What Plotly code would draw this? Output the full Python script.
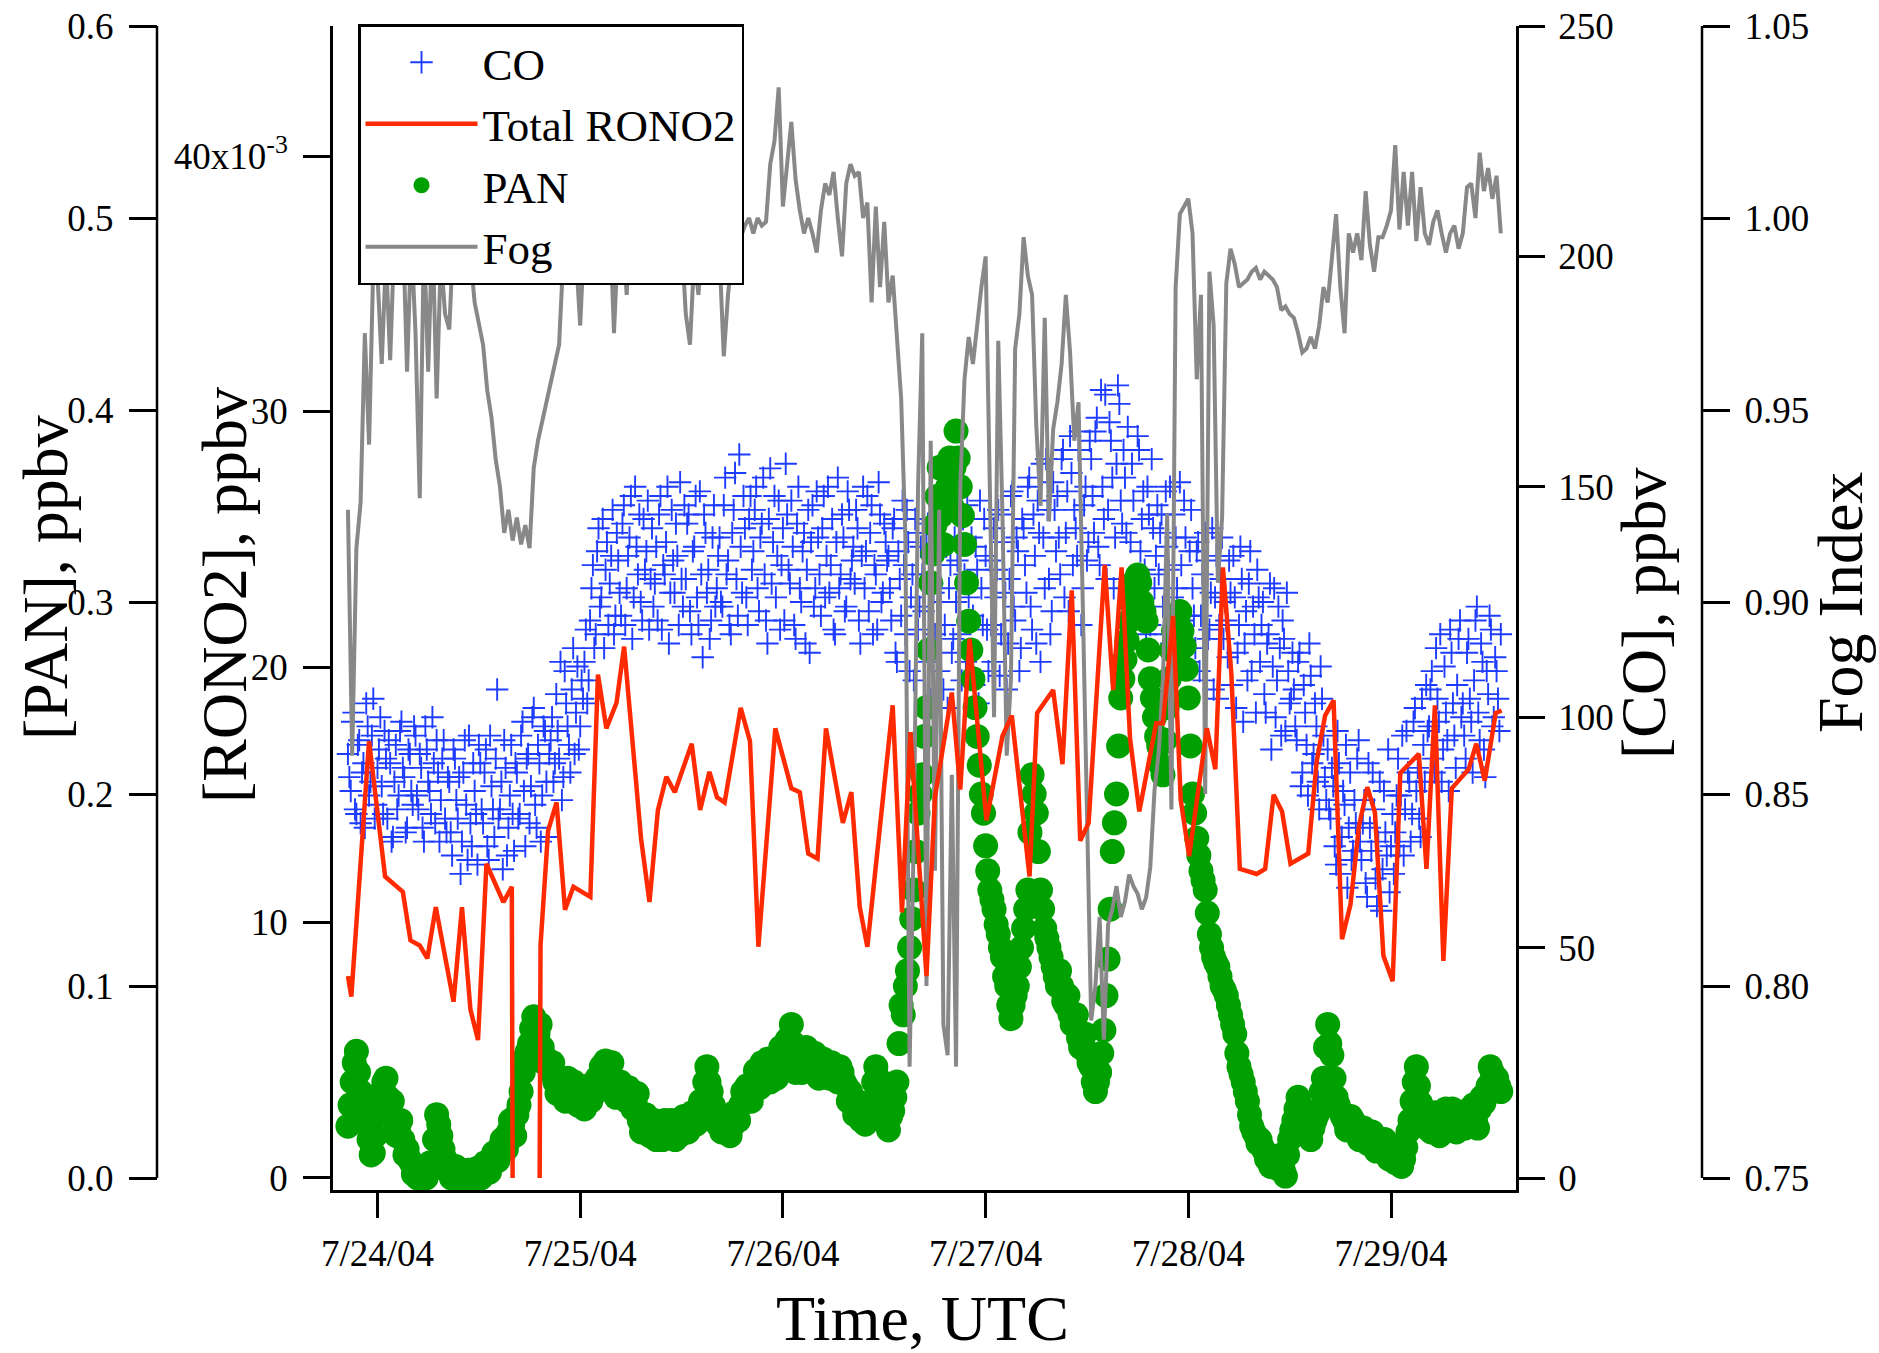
import pandas as pd
import plotly.graph_objects as go

BASE = pd.Timestamp("2004-07-24 00:00")

# ---------------- data (hours relative to 7/24/04 00:00 UTC) ----------------
rono2_hours = [-3.5, -3.1, -1.0, 0.9, 3.0, 3.9, 5.0, 5.9, 6.9, 9.0, 10.0, 11.0, 11.9, 12.9, 14.9, 15.9,
               16.0, 17.5, 19.2, 19.3, 20.2, 21.2, 22.2, 23.2, 25.2, 26.1, 27.1, 28.3, 29.2, 31.2, 32.2,
               33.2, 34.2, 35.2, 37.2, 38.2, 39.3, 40.2, 41.1, 43.0, 44.1, 45.1, 47.1, 49.0, 50.0, 51.0,
               52.1, 53.1, 55.1, 56.1, 57.1, 58.0, 61.0, 62.1, 63.1, 65.0, 66.0, 68.0, 69.0, 70.1, 72.1,
               74.0, 75.1, 77.2, 78.1, 80.0, 81.1, 82.2, 83.2, 84.2, 86.1, 87.1, 88.1, 89.1, 90.2, 92.2,
               93.0, 94.2, 95.1, 96.1, 98.2, 99.2, 100.1, 101.1, 102.1, 104.1, 105.1, 106.1, 107.1, 108.1,
               110.2, 111.2, 112.2, 113.2, 114.2, 115.2, 116.2, 117.2, 118.1, 119.1, 120.2, 121.1, 123.3,
               124.2, 125.2, 126.2, 127.2, 129.2, 130.1, 131.1, 132.4, 133.1]
rono2_pptv = [7.9, 7.1, 17.1, 11.8, 11.2, 9.3, 9.1, 8.6, 10.6, 6.9, 10.6, 6.6, 5.4, 12.3, 10.8, 11.4,
              0.0, None, 0.0, 9.1, 13.6, 14.7, 10.5, 11.4, 11.0, 19.7, 17.6, 18.6, 20.8, 13.3, 10.8,
              14.4, 15.7, 15.1, 17.0, 14.4, 15.9, 14.9, 14.7, 18.4, 17.1, 9.05, 17.6, 15.25, 15.1, 12.7,
              12.5, 17.6, 13.9, 15.1, 10.6, 9.05, 18.5, 10.4, 17.45, 7.9, 14.9, 19.0, 15.2, 21.1, 14.0,
              17.3, 18.1, 11.8, 18.2, 19.1, 16.2, 23.0, 13.2, 13.9, 24.0, 19.1, 23.9, 17.2, 14.35, 17.8,
              17.8, 22.0, 14.8, 12.6, 17.6, 16.0, 23.9, 19.7, 12.1, 11.9, 12.1, 15.0, 14.35, 12.3,
              12.7, 16.3, 18.1, 18.7, 9.35, 10.7, 13.75, 15.3, 14.3, 8.7, 7.7, 15.85, 16.6,
              12.1, 18.5, 8.5, 15.25, 16.0, 17.0, 15.55, 18.2, 18.3]

# PAN: two interleaved sample sets, every 30 min, the second offset by 15 min
pan_start_h, pan_step_h, pan_offset_h = -3.5, 0.5, 0.25
pan_ppbv = [0.027, 0.05, 0.066, 0.045, 0.035, 0.02, 0.013, 0.033,
            0.045, 0.052, 0.035, 0.03, 0.027, 0.02, 0.015, 0.008,
            0.004, 0.0, 0.0, 0.003, 0.005, 0.033, 0.022, 0.01,
            0.005, 0.002, 0.0, 0.003, 0.0, 0.002, 0.0, 0.002,
            0.004, 0.006, 0.008, 0.012, 0.016, 0.02, 0.024, 0.028,
            0.033, 0.045, 0.063, 0.07, 0.084, 0.075, 0.068, 0.062,
            0.055, 0.05, 0.045, 0.048, 0.052, 0.04, 0.045, 0.042,
            0.036, 0.048, 0.043, 0.052, 0.058, 0.061, 0.055, 0.05,
            0.044, 0.048, 0.04, 0.045, 0.039, 0.03, 0.026, 0.03,
            0.025, 0.02, 0.028, 0.03, 0.022, 0.026, 0.03, 0.025,
            0.03, 0.027, 0.032, 0.035, 0.04, 0.058, 0.045, 0.035,
            0.03, 0.025, 0.03, 0.027, 0.033, 0.038, 0.04, 0.045,
            0.05, 0.052, 0.06, 0.055, 0.05, 0.058, 0.062, 0.068,
            0.072, 0.08, 0.055, 0.062, 0.06, 0.065, 0.058, 0.06,
            0.055, 0.06, 0.052, 0.058, 0.05, 0.055, 0.048, 0.045,
            0.033, 0.038, 0.035, 0.03, 0.04, 0.058, 0.048, 0.035,
            0.025, 0.035, 0.05, 0.09, 0.1, 0.12, 0.15, 0.19,
            0.21, 0.245, 0.31, 0.34, 0.37, 0.33, 0.36, 0.35,
            0.389, 0.36, 0.33, 0.29, 0.26, 0.23, 0.2, 0.173,
            0.15, 0.14, 0.127, 0.115, 0.1, 0.083, 0.095, 0.11,
            0.13, 0.15, 0.21, 0.19, 0.15, 0.13, 0.12, 0.11,
            0.1, 0.1, 0.09, 0.085, 0.08, 0.073, 0.07, 0.065,
            0.058, 0.045, 0.055, 0.077, 0.114, 0.17, 0.2, 0.25,
            0.27, 0.29, 0.31, 0.314, 0.3, 0.29, 0.26, 0.24,
            0.225, 0.21, 0.245, 0.275, 0.29, 0.295, 0.277, 0.25,
            0.2, 0.177, 0.16, 0.15, 0.127, 0.115, 0.11, 0.1,
            0.095, 0.085, 0.075, 0.058, 0.05, 0.04, 0.027, 0.022,
            0.02, 0.014, 0.011, 0.008, 0.005, 0.012, 0.001, 0.02,
            0.03, 0.042, 0.036, 0.03, 0.02, 0.03, 0.035, 0.052,
            0.08, 0.064, 0.042, 0.035, 0.03, 0.027, 0.03, 0.025,
            0.022, 0.024, 0.02, 0.018, 0.02, 0.015, 0.012, 0.014,
            0.008, 0.011, 0.01, 0.024, 0.04, 0.058, 0.039, 0.033,
            0.03, 0.028, 0.03, 0.025, 0.036, 0.03, 0.033, 0.027,
            0.03, 0.035, 0.033, 0.03, 0.036, 0.039, 0.048, 0.055,
            0.052, 0.045]
pan_ppbv_b = [0.038, 0.06, 0.055, 0.04, 0.028, 0.012, 0.022, 0.04,
              0.05, 0.042, 0.04, 0.022, 0.03, 0.012, 0.01, 0.002,
              0.0, 0.004, 0.0, 0.008, 0.02, 0.028, 0.015, 0.004,
              0.0, 0.006, 0.002, 0.0, 0.004, 0.0, 0.005, 0.0,
              0.008, 0.003, 0.013, 0.009, 0.02, 0.015, 0.03, 0.022,
              0.038, 0.055, 0.066, 0.078, 0.068, 0.08, 0.06, 0.058,
              0.06, 0.044, 0.052, 0.04, 0.047, 0.05, 0.038, 0.045,
              0.044, 0.04, 0.05, 0.046, 0.052, 0.05, 0.06, 0.042,
              0.05, 0.042, 0.047, 0.036, 0.044, 0.024, 0.033, 0.022,
              0.03, 0.026, 0.02, 0.024, 0.03, 0.02, 0.022, 0.032,
              0.024, 0.034, 0.028, 0.04, 0.05, 0.05, 0.038, 0.028,
              0.024, 0.032, 0.022, 0.034, 0.03, 0.045, 0.048, 0.04,
              0.056, 0.047, 0.052, 0.062, 0.056, 0.052, 0.068, 0.062,
              0.065, 0.07, 0.064, 0.055, 0.068, 0.06, 0.065, 0.052,
              0.062, 0.055, 0.06, 0.052, 0.058, 0.05, 0.04, 0.038,
              0.04, 0.03, 0.028, 0.035, 0.05, 0.052, 0.04, 0.03,
              0.032, 0.042, 0.07, 0.085, 0.108, 0.135, 0.17, 0.2,
              0.23, 0.275, 0.325, 0.355, 0.345, 0.35, 0.375, 0.37,
              0.375, 0.345, 0.31, 0.275, 0.245, 0.215, 0.19, 0.16,
              0.145, 0.132, 0.12, 0.105, 0.09, 0.09, 0.1, 0.12,
              0.14, 0.18, 0.2, 0.17, 0.14, 0.125, 0.115, 0.105,
              0.108, 0.092, 0.095, 0.08, 0.085, 0.068, 0.075, 0.06,
              0.05, 0.05, 0.065, 0.095, 0.14, 0.185, 0.225, 0.26,
              0.28, 0.3, 0.305, 0.31, 0.295, 0.275, 0.25, 0.23,
              0.215, 0.228, 0.26, 0.285, 0.29, 0.285, 0.265, 0.225,
              0.19, 0.168, 0.155, 0.138, 0.12, 0.112, 0.105, 0.098,
              0.09, 0.08, 0.065, 0.054, 0.045, 0.033, 0.024, 0.018,
              0.016, 0.01, 0.006, 0.01, 0.008, 0.004, 0.012, 0.025,
              0.036, 0.038, 0.032, 0.024, 0.026, 0.033, 0.045, 0.068,
              0.07, 0.052, 0.038, 0.032, 0.025, 0.032, 0.026, 0.02,
              0.026, 0.018, 0.024, 0.014, 0.017, 0.02, 0.01, 0.012,
              0.012, 0.006, 0.016, 0.03, 0.05, 0.048, 0.036, 0.026,
              0.024, 0.034, 0.022, 0.03, 0.028, 0.036, 0.024, 0.032,
              0.026, 0.03, 0.038, 0.026, 0.042, 0.044, 0.058, 0.05,
              0.048]

fog_start_h, fog_step_h = -3.5, 0.5
fog_index = [0.924, 0.86, 0.914, 0.926, 0.97, 0.941, 0.988, 0.985,
             0.962, 0.99, 0.963, 0.995, 0.99, 0.998, 0.96, 0.995,
             0.97, 0.927, 0.995, 0.96, 0.998, 0.953, 0.99, 0.975,
             0.971, 0.996, 1.0, 1.002, 0.998, 0.99, 0.978, 0.972,
             0.967, 0.955, 0.948, 0.937, 0.93, 0.918, 0.924, 0.916,
             0.922, 0.915, 0.92, 0.914, 0.935, 0.942, 0.947, 0.952,
             0.958, 0.962, 0.967, 0.99, 0.998, 0.995, 0.99, 0.972,
             0.996, 1.0, 0.992, 0.998, 1.002, 0.995, 1.0, 0.97,
             0.995, 0.999, 0.98, 1.0, 1.003, 1.005, 1.0, 1.004,
             1.006, 1.002, 1.0, 1.004, 1.003, 0.999, 1.0, 0.995,
             0.975, 0.967, 0.99, 0.98, 0.995, 0.993, 0.985, 0.996,
             0.99, 0.964, 0.98, 0.99, 0.985, 0.995, 0.998, 1.0,
             0.996, 1.0, 0.998, 0.999, 1.014, 1.02, 1.034, 1.003,
             1.015, 1.025, 1.01, 1.002, 0.996, 1.0, 0.996, 0.991,
             1.002, 1.009, 1.006, 1.012, 1.0, 0.99, 1.009, 1.014,
             1.011, 1.012, 1.0, 1.004, 0.978, 1.003, 0.982, 0.999,
             0.978, 0.985, 0.969, 0.953, 0.917, 0.779, 0.84, 0.93,
             0.97, 0.80, 0.942, 0.83, 0.924, 0.79, 0.782, 0.855,
             0.779, 0.93, 0.958, 0.969, 0.962, 0.973, 0.982, 0.99,
             0.93, 0.87, 0.968, 0.922, 0.86, 0.88, 0.966, 0.975,
             0.995, 0.985, 0.98, 0.946, 0.925, 0.974, 0.921, 0.945,
             0.952, 0.962, 0.98, 0.965, 0.942, 0.952, 0.9, 0.84,
             0.791, 0.80, 0.818, 0.786, 0.816, 0.82, 0.826, 0.818,
             0.822, 0.829, 0.826, 0.824, 0.82, 0.823, 0.831, 0.851,
             0.861, 0.88, 0.923, 0.846, 0.982, 1.001, 1.003, 1.005,
             0.996, 0.958, 0.98, 0.85, 0.986, 0.972, 0.905, 0.922,
             0.983, 0.992, 0.988, 0.982, 0.983, 0.984, 0.986, 0.987,
             0.984, 0.986, 0.985, 0.984, 0.982, 0.976, 0.977, 0.975,
             0.974, 0.97, 0.965, 0.966, 0.969, 0.966, 0.972, 0.982,
             0.978, 0.991, 1.001, 0.982, 0.97, 0.996, 0.991, 0.996,
             0.989, 1.007, 0.993, 0.986, 0.995, 0.995, 0.998, 1.002,
             1.019, 0.997, 1.012, 0.998, 1.012, 0.994, 1.008, 0.996,
             0.993, 0.999, 1.002, 0.996, 0.991, 0.996, 0.998, 0.992,
             0.996, 1.008, 1.009, 1.0, 1.017, 1.007, 1.013, 1.005,
             1.011, 0.996]

# CO: two interleaved sample sets, every 20 min, the second offset by 10 min
co_start_h, co_step_h, co_offset_h = -3.5, 1.0 / 3.0, 1.0 / 6.0
co_ppbv = [92, 84, 101, 79, 95, 88, 76, 98, 86, 104, 81, 93,
           85, 97, 78, 90, 74, 94, 83, 99, 87, 76, 92, 81,
           96, 80, 89, 73, 93, 84, 100, 77, 88, 82, 95, 75,
           86, 70, 91, 78, 66, 88, 81, 96, 72, 84, 68, 90,
           77, 93, 69, 85, 74, 106, 80, 67, 89, 76, 94, 71,
           88, 79, 99, 72, 92, 85, 102, 76, 90, 83, 97, 74,
           95, 86, 105, 91, 82, 110, 98, 88, 115, 101, 93, 108,
           112, 103, 121, 133, 118, 141, 126, 115, 138, 129, 145, 122,
           134, 122, 146, 128, 139, 117, 150, 131, 125, 143, 136, 119,
           141, 129, 121, 148, 133, 138, 116, 145, 127, 135, 151, 124,
           130, 144, 118, 137, 126, 149, 113, 140, 132, 121, 146, 128,
           139, 124, 152, 134, 118, 145, 130, 157, 127, 141, 120, 148,
           136, 150, 123, 142, 131, 116, 154, 138, 126, 147, 133, 121,
           144, 129, 137, 117, 150, 125, 140, 132, 114, 146, 128, 139,
           122, 148, 135, 127, 143, 118, 152, 131, 139, 124, 145, 134,
           129, 141, 116, 150, 136, 123, 146, 133, 119, 144, 127, 138,
           135, 121, 143, 112, 130, 147, 118, 138, 126, 108, 140, 124,
           131, 115, 142, 104, 127, 136, 110, 145, 120, 102, 133, 117,
           125, 139, 108, 131, 146, 114, 122, 137, 103, 128, 143, 119,
           134, 112, 126, 145, 118, 138, 106, 130, 149, 121, 136, 115,
           141, 127, 152, 119, 135, 147, 112, 139, 156, 130, 123, 145,
           148, 131, 158, 140, 123, 153, 145, 135, 162, 128, 150, 138,
           156, 140, 165, 133, 150, 170, 145, 160, 128, 155, 168, 142,
           152, 163, 138, 147, 125, 158, 143, 132, 150, 120, 141, 135,
           131, 144, 118, 137, 150, 126, 139, 113, 133, 147, 122, 136,
           128, 115, 138, 122, 108, 134, 119, 141, 126, 104, 130, 117,
           121, 134, 107, 126, 114, 137, 99, 123, 129, 110, 118, 132,
           112, 125, 101, 118, 93, 128, 108, 115, 121, 97, 110, 104,
           106, 95, 114, 88, 101, 83, 109, 92, 98, 80, 104, 87,
           93, 78, 85, 68, 90, 74, 81, 63, 88, 71, 77, 95,
           69, 82, 61, 76, 88, 65, 73, 58, 84, 70, 62, 79,
           75, 91, 83, 70, 97, 86, 79, 102, 89, 74, 94, 107,
           98, 110, 88, 104, 118, 93, 101, 84, 114, 96, 107, 121,
           103, 91, 117, 99, 108, 124, 95, 112, 87, 105, 119, 100,
           110, 97]
co_ppbv_b = [87, 99, 80, 94, 77, 90, 103, 83, 96, 78, 89, 100,
             79, 91, 95, 73, 86, 80, 97, 89, 75, 93, 84, 98,
             83, 92, 76, 98, 86, 79, 90, 95, 73, 91, 78, 87,
             75, 93, 82, 87, 73, 95, 69, 77, 90, 79, 94, 80,
             88, 72, 96, 80, 91, 78, 86, 95, 70, 83, 79, 90,
             78, 96, 84, 91, 77, 100, 81, 94, 73, 98, 86, 92,
             100, 90, 97, 112, 87, 103, 94, 106, 92, 111, 98, 104,
             119, 108, 128, 115, 136, 124, 143, 132, 120, 135, 118, 140,
             127, 142, 120, 135, 148, 126, 137, 144, 121, 132, 147, 130,
             124, 137, 144, 119, 131, 150, 127, 134, 142, 120, 130, 146,
             142, 123, 136, 148, 120, 131, 144, 127, 117, 139, 124, 135,
             125, 146, 131, 120, 140, 153, 122, 137, 148, 126, 143, 132,
             145, 128, 139, 152, 121, 143, 129, 148, 135, 119, 141, 155,
             132, 147, 120, 142, 128, 136, 116, 145, 138, 124, 149, 131,
             141, 126, 150, 133, 119, 138, 128, 144, 123, 149, 130, 137,
             145, 121, 135, 128, 148, 140, 118, 131, 151, 125, 142, 134,
             128, 141, 114, 136, 122, 133, 145, 110, 131, 143, 119, 137,
             123, 140, 112, 129, 118, 143, 125, 106, 137, 128, 114, 139,
             134, 118, 143, 112, 126, 139, 107, 132, 147, 120, 135, 110,
             120, 141, 132, 109, 144, 127, 116, 148, 124, 139, 110, 143,
             133, 150, 124, 144, 116, 140, 155, 128, 145, 118, 151, 136,
             139, 156, 126, 149, 161, 133, 141, 158, 120, 146, 134, 160,
             148, 162, 137, 171, 143, 130, 164, 152, 139, 172, 147, 158,
             140, 130, 155, 124, 161, 136, 149, 118, 144, 156, 128, 146,
             140, 124, 149, 132, 116, 144, 128, 151, 121, 139, 112, 145,
             122, 136, 110, 131, 140, 117, 127, 106, 135, 120, 139, 125,
             113, 127, 135, 102, 120, 130, 116, 108, 136, 124, 101, 126,
             120, 105, 116, 129, 111, 100, 124, 96, 117, 127, 103, 114,
             98, 112, 85, 107, 94, 116, 90, 103, 86, 111, 96, 82,
             80, 89, 72, 97, 66, 84, 94, 76, 69, 82, 91, 73,
             77, 64, 90, 71, 80, 59, 86, 67, 75, 93, 72, 66,
             83, 72, 96, 80, 88, 73, 99, 84, 78, 104, 86, 97,
             106, 91, 115, 99, 86, 111, 95, 119, 103, 89, 117, 100,
             96, 114, 104, 88, 121, 101, 116, 93, 110, 122, 98, 113,
             104, 118]

day_ticks = ["2004-07-24", "2004-07-25", "2004-07-26", "2004-07-27", "2004-07-28", "2004-07-29"]
day_labels = ["7/24/04", "7/25/04", "7/26/04", "7/27/04", "7/28/04", "7/29/04"]
pan_ticks = [0.0, 0.1, 0.2, 0.3, 0.4, 0.5, 0.6]
rono2_ticks = [0, 10, 20, 30, 40]
rono2_labels = ["0", "10", "20", "30", "40x10<sup>-3</sup>"]
co_ticks = [0, 50, 100, 150, 200, 250]
fog_ticks = [0.75, 0.80, 0.85, 0.90, 0.95, 1.00, 1.05]


def times_from_hours(hours):
    return [BASE + pd.Timedelta(hours=h) for h in hours]


def regular_times(start, step, n):
    return [BASE + pd.Timedelta(hours=start + i * step) for i in range(n)]


def interleave(start, step, offset, vals_a, vals_b):
    xs = regular_times(start, step, len(vals_a)) + regular_times(start + offset, step, len(vals_b))
    ys = list(vals_a) + list(vals_b)
    order = sorted(range(len(xs)), key=lambda i: xs[i])
    return [xs[i] for i in order], [ys[i] for i in order]


# ---------------- geometry ----------------
W, H = 1879, 1353
FONT = "Liberation Serif"
X0, X1 = 333 / W, 1516 / W
Y0, Y1 = 1 - 1190 / H, 1 - 26 / H
PAN_POS = 157 / W
FOG_POS = 1702 / W

BLUE = "#1e3cff"
RED = "#ff2a00"
GREEN = "#00a000"
GRAY = "#888888"

co_x, co_y = interleave(co_start_h, co_step_h, co_offset_h, co_ppbv, co_ppbv_b)
pan_x, pan_y = interleave(pan_start_h, pan_step_h, pan_offset_h, pan_ppbv, pan_ppbv_b)

fig = go.Figure()
fig.add_trace(go.Scatter(
    x=co_x, y=co_y, name="CO", mode="markers", yaxis="y", legendrank=1,
    marker=dict(symbol="cross-thin", size=16, color=BLUE, line=dict(color=BLUE, width=1.9)),
))
fig.add_trace(go.Scatter(
    x=pan_x, y=pan_y, name="PAN", mode="markers", yaxis="y2", legendrank=3,
    marker=dict(symbol="circle", size=25, color=GREEN, line=dict(width=0)),
))
fig.add_trace(go.Scatter(
    x=regular_times(fog_start_h, fog_step_h, len(fog_index)), y=fog_index, name="Fog",
    mode="lines", yaxis="y3", legendrank=4,
    line=dict(color=GRAY, width=4),
))
fig.add_trace(go.Scatter(
    x=times_from_hours(rono2_hours), y=rono2_pptv, name="Total RONO2",
    mode="lines", yaxis="y4", legendrank=2, connectgaps=False,
    line=dict(color=RED, width=4.5),
))

tick_common = dict(ticks="outside", tickwidth=2.5, tickcolor="black", showgrid=False,
                   zeroline=False, automargin=False,
                   tickfont=dict(family=FONT, size=37, color="black"))

fig.update_layout(
    template="none",
    width=W, height=H, autosize=False,
    margin=dict(l=0, r=0, t=0, b=0, pad=0, autoexpand=False),
    paper_bgcolor="white", plot_bgcolor="white",
    font=dict(family=FONT, size=37, color="black"),
    xaxis=dict(domain=[X0, X1], type="date",
               range=[BASE + pd.Timedelta(hours=-5.27), BASE + pd.Timedelta(hours=134.8)],
               tickvals=day_ticks, ticktext=day_labels, ticklen=25, ticklabelstandoff=4,
               showline=True, linewidth=2.5, linecolor="black", anchor="y", **tick_common),
    yaxis=dict(domain=[Y0, Y1], range=[-2.604, 250], side="right", anchor="x",
               tickvals=co_ticks, ticktext=[str(v) for v in co_ticks], ticklen=26,
               ticklabelstandoff=6,
               showline=True, linewidth=2.5, linecolor="black", **tick_common),
    yaxis2=dict(overlaying="y", side="left", anchor="free", position=PAN_POS,
                range=[-0.00625, 0.6], tickvals=pan_ticks,
                ticktext=["%.1f" % v for v in pan_ticks], ticklen=28, ticklabelstandoff=8,
                showline=False, **tick_common),
    yaxis3=dict(overlaying="y", side="right", anchor="free", position=FOG_POS,
                range=[0.746875, 1.05], tickvals=fog_ticks,
                ticktext=["%.2f" % v for v in fog_ticks], ticklen=27, ticklabelstandoff=7,
                showline=False, **tick_common),
    yaxis4=dict(overlaying="y", side="left", anchor="x",
                range=[-0.47, 45.09], tickvals=rono2_ticks, ticktext=rono2_labels,
                ticklen=27, ticklabelstandoff=8,
                showline=True, linewidth=2.5, linecolor="black", **tick_common),
    showlegend=True,
    legend=dict(x=358 / W, y=1 - 24 / H, xanchor="left", yanchor="top",
                bgcolor="white", bordercolor="black", borderwidth=2.5,
                font=dict(family=FONT, size=45, color="black"),
                itemwidth=112, traceorder="normal", tracegroupgap=0),
    shapes=[
        dict(type="line", xref="paper", yref="y2", x0=PAN_POS, x1=PAN_POS, y0=0, y1=0.6,
             line=dict(color="black", width=2.5)),
        dict(type="line", xref="paper", yref="y3", x0=FOG_POS, x1=FOG_POS, y0=0.75, y1=1.05,
             line=dict(color="black", width=2.5)),
    ],
)

title_font = dict(family=FONT, size=64, color="black")
annos = [
    dict(text="[PAN], ppbv", x=45 / W, y=1 - 578 / H, textangle=-90),
    dict(text="[RONO2], ppbv", x=225 / W, y=1 - 595 / H, textangle=-90),
    dict(text="[CO], ppbv", x=1643 / W, y=1 - 613 / H, textangle=-90),
    dict(text="Fog Index", x=1840 / W, y=1 - 603 / H, textangle=-90),
    dict(text="Time, UTC", x=922 / W, y=1 - 1318 / H, textangle=0),
]
for a in annos:
    fig.add_annotation(xref="paper", yref="paper", showarrow=False, xanchor="center",
                       yanchor="middle", font=title_font, **a)

fig.write_html("out.html")
